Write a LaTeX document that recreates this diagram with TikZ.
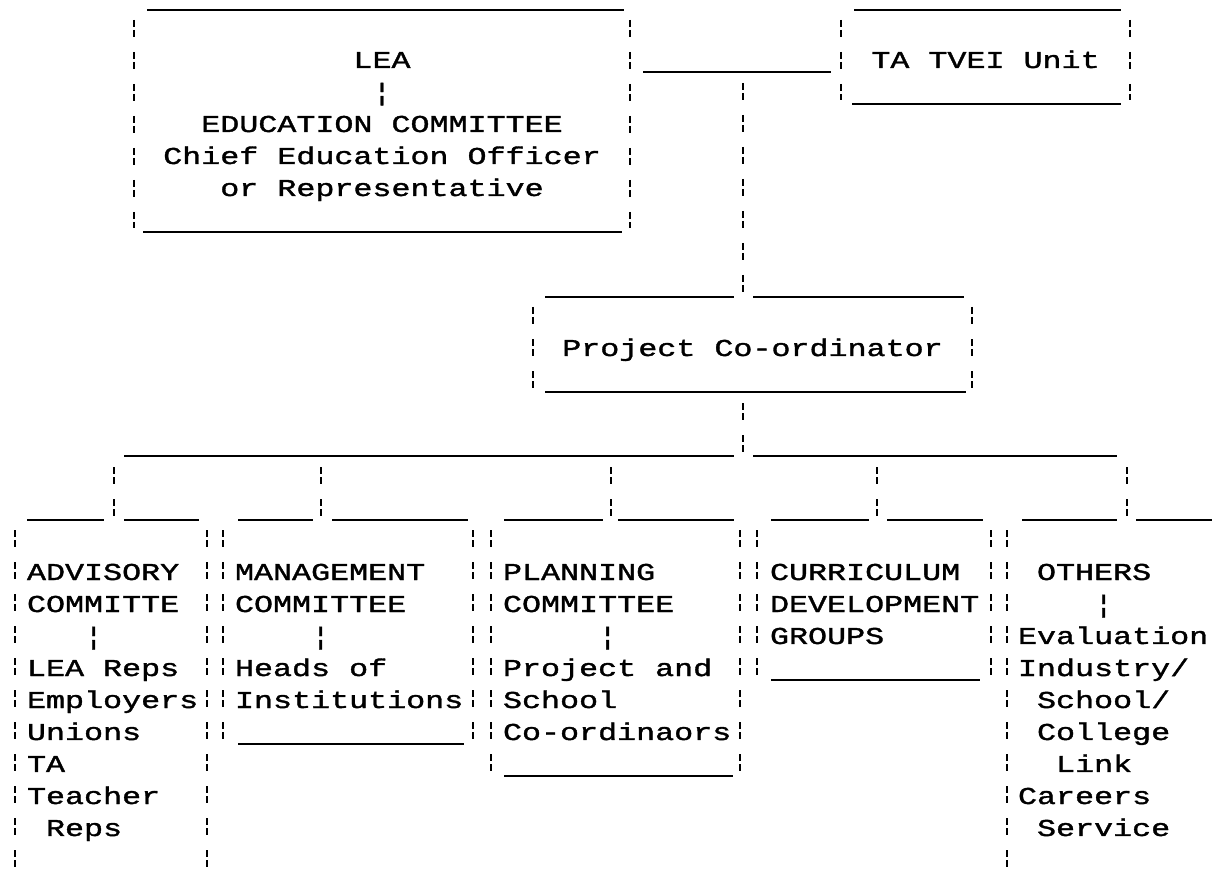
\documentclass[tikz,border=0pt]{standalone}
\usepackage{fontspec}
\newfontfamily\dotfamily[FakeStretch=1.31,FakeBold=1.5]{Liberation Mono}
\newcommand\dotfont{\dotfamily\fontsize{12.1}{16}\selectfont}
\newcommand\monospace{\spaceskip=\fontcharwd\font`x\relax\xspaceskip=\spaceskip}
\newcommand\pad[1]{\leavevmode\hphantom{#1}}
\usepackage{tikz}
\usetikzlibrary{calc, fit, positioning}

\tikzset{
  rule/.style={line width=1.1pt},
  bar/.style={line width=1.4pt, dash pattern=on 3.5pt off 1.5pt on 3.5pt off 7.5pt},
  frame/.style={inner sep=0pt, outer sep=0pt, draw=none},
  txt/.style={font=\dotfont, inner sep=0pt, outer sep=0pt, text width=130pt,
    align=left, anchor=north west, execute at begin node=\monospace\strut},
  ctxt/.style={txt, align=center, anchor=north}
}

\begin{document}
\begin{tikzpicture}[x=0.5pt,y=-0.5pt,line cap=butt]
  \useasboundingbox (0,0) rectangle (1212,872);
%%
  \coordinate (lk) at (743,72);
  \coordinate (hub) at (743,456);
  \coordinate (adv in) at (114,520);
  \coordinate (man in) at (321,520);
  \coordinate (plan in) at (611,520);
  \coordinate (curr in) at (877,520);
  \coordinate (oth in) at (1127,520);
  % Node: LEA
  \node[frame, fit={(134,10) (630,232)}] (lea) {};
  \node[ctxt, text width=248pt] (lea text) at ($(lea.north)+(0,35.6)$)
    {LEA\\¦\\EDUCATION COMMITTEE\\Chief Education Officer\\or Representative};
  \draw[rule] ($(lea.north west)+(13,0)$) -- ($(lea.north east)+(-6,0)$);
  \draw[rule] ($(lea.south west)+(9,0)$) -- ($(lea.south east)+(-8,0)$);
  \draw[bar] ($(lea.north west)+(0,10)$) -- ($(lea.south west)+(0,-4)$);
  \draw[bar] ($(lea.north east)+(0,10)$) -- ($(lea.south east)+(0,-4)$);
  % Node: TVEI
  \node[frame, fit={(841,10) (1130,104)}] (tvei) {};
  \node[ctxt] (tvei text) at ($(tvei.north)+(0,35.6)$) {TA TVEI Unit};
  \draw[rule] ($(tvei.north west)+(13,0)$) -- ($(tvei.north east)+(-9,0)$);
  \draw[rule] ($(tvei.south west)+(11,0)$) -- ($(tvei.south east)+(-9,0)$);
  \draw[bar] ($(tvei.north west)+(0,10)$) -- ($(tvei.south west)+(0,-4)$);
  \draw[bar] ($(tvei.north east)+(0,10)$) -- ($(tvei.south east)+(0,-4)$);
  % Node: Project Co-ordinator
  \node[frame, fit={(533,297) (972,392)}] (proj) {};
  \node[ctxt, text width=200pt] (proj text) at ($(proj.north)+(0,36.6)$) {Project Co-ordinator};
  \draw[rule] ($(proj.north west)+(12,0)$) -- ($(proj.north -| lk)+(-9,0)$);
  \draw[rule] ($(proj.north -| lk)+(10,0)$) -- ($(proj.north east)+(-8,0)$);
  \draw[rule] ($(proj.south west)+(12,0)$) -- ($(proj.south east)+(-6,0)$);
  \draw[bar] ($(proj.north west)+(0,10)$) -- ($(proj.south west)+(0,-4)$);
  \draw[bar] ($(proj.north east)+(0,10)$) -- ($(proj.south east)+(0,-4)$);
  % Node: ADVISORY
  \node[frame, fit={(15,520) (207,872)}] (adv) {};
  \node[txt] (adv text) at ($(adv.north west)+(12,37.6)$)
    {ADVISORY\\COMMITTE\\\pad{xxx}¦\\LEA Reps\\Employers\\Unions\\TA\\Teacher\\\pad{x}Reps};
  \draw[rule] ($(adv.north west)+(12,0)$) -- ($(adv in)+(-10,0)$);
  \draw[rule] ($(adv in)+(10,0)$) -- ($(adv.north east)+(-8,0)$);
  \draw[bar] ($(adv.north west)+(0,10)$) -- ($(adv.south west)+(0,-4)$);
  \draw[bar] ($(adv.north east)+(0,10)$) -- ($(adv.south east)+(0,-4)$);
  % Node: MANAGEMENT
  \node[frame, fit={(223,520) (473,744)}] (man) {};
  \node[txt] (man text) at ($(man.north west)+(12,37.6)$)
    {MANAGEMENT\\COMMITTEE\\\pad{xxxx}¦\\Heads of\\Institutions};
  \draw[rule] ($(man.north west)+(15,0)$) -- ($(man in)+(-8,0)$);
  \draw[rule] ($(man in)+(11,0)$) -- ($(man.north east)+(-5,0)$);
  \draw[rule] ($(man.south west)+(15,0)$) -- ($(man.south east)+(-9,0)$);
  \draw[bar] ($(man.north west)+(0,10)$) -- ($(man.south west)+(0,-4)$);
  \draw[bar] ($(man.north east)+(0,10)$) -- ($(man.south east)+(0,-4)$);
  % Node: PLANNING
  \node[frame, fit={(491,520) (740,776)}] (plan) {};
  \node[txt] (plan text) at ($(plan.north west)+(12,37.6)$)
    {PLANNING\\COMMITTEE\\\pad{xxxxx}¦\\Project and\\School\\Co-ordinaors};
  \draw[rule] ($(plan.north west)+(13,0)$) -- ($(plan in)+(-8,0)$);
  \draw[rule] ($(plan in)+(7,0)$) -- ($(plan.north east)+(-6,0)$);
  \draw[rule] ($(plan.south west)+(13,0)$) -- ($(plan.south east)+(-7,0)$);
  \draw[bar] ($(plan.north west)+(0,10)$) -- ($(plan.south west)+(0,-4)$);
  \draw[bar] ($(plan.north east)+(0,10)$) -- ($(plan.south east)+(0,-4)$);
  % Node: CURRICULUM
  \node[frame, fit={(757,520) (991,680)}] (curr) {};
  \node[txt] (curr text) at ($(curr.north west)+(13,37.6)$)
    {CURRICULUM\\DEVELOPMENT\\GROUPS};
  \draw[rule] ($(curr.north west)+(14,0)$) -- ($(curr in)+(-8,0)$);
  \draw[rule] ($(curr in)+(10,0)$) -- ($(curr.north east)+(-8,0)$);
  \draw[rule] ($(curr.south west)+(14,0)$) -- ($(curr.south east)+(-11,0)$);
  \draw[bar] ($(curr.north west)+(0,10)$) -- ($(curr.south west)+(0,-4)$);
  \draw[bar] ($(curr.north east)+(0,10)$) -- ($(curr.south east)+(0,-4)$);
  % Node: OTHERS
  \node[frame, fit={(1007,520) (1212,872)}] (oth) {};
  \node[txt] (oth text) at ($(oth.north west)+(11,37.6)$)
    {\pad{x}OTHERS\\\pad{xxxx}¦\\Evaluation\\Industry/\\\pad{x}School/\\\pad{x}College\\\pad{xx}Link\\Careers\\\pad{x}Service};
  \draw[rule] ($(oth.north west)+(15,0)$) -- ($(oth in)+(-10,0)$);
  \draw[rule] ($(oth in)+(9,0)$) -- (oth.north east);
  \draw[bar] ($(oth.north west)+(0,10)$) -- ($(oth.south west)+(0,-4)$);
%%
  % Edge: LEA -- TVEI
  \draw[rule] ($(lea.north east)+(13,62)$) -- ($(tvei.north west)+(-10,62)$);
  % Edge: LEA -- Project Co-ordinator
  \draw[bar] ($(lk)+(0,11)$) -- ($(proj.north -| lk)+(0,-5)$);
  % Edge: Project Co-ordinator -- committees
  \draw[bar] ($(proj.south -| hub)+(0,11)$) -- ($(hub)+(0,-4)$);
  \draw[rule] ($(adv in |- hub)+(10,0)$) -- ($(hub)+(-9,0)$);
  \draw[rule] ($(hub)+(10,0)$) -- ($(oth in |- hub)+(-10,0)$);
  % Edge: hub -- ADVISORY
  \draw[bar] ($(adv in |- hub)+(0,11)$) -- ($(adv in)+(0,-4)$);
  % Edge: hub -- MANAGEMENT
  \draw[bar] ($(man in |- hub)+(0,11)$) -- ($(man in)+(0,-4)$);
  % Edge: hub -- PLANNING
  \draw[bar] ($(plan in |- hub)+(0,11)$) -- ($(plan in)+(0,-4)$);
  % Edge: hub -- CURRICULUM
  \draw[bar] ($(curr in |- hub)+(0,11)$) -- ($(curr in)+(0,-4)$);
  % Edge: hub -- OTHERS
  \draw[bar] ($(oth in |- hub)+(0,11)$) -- ($(oth in)+(0,-4)$);
%
\end{tikzpicture}
\end{document}
